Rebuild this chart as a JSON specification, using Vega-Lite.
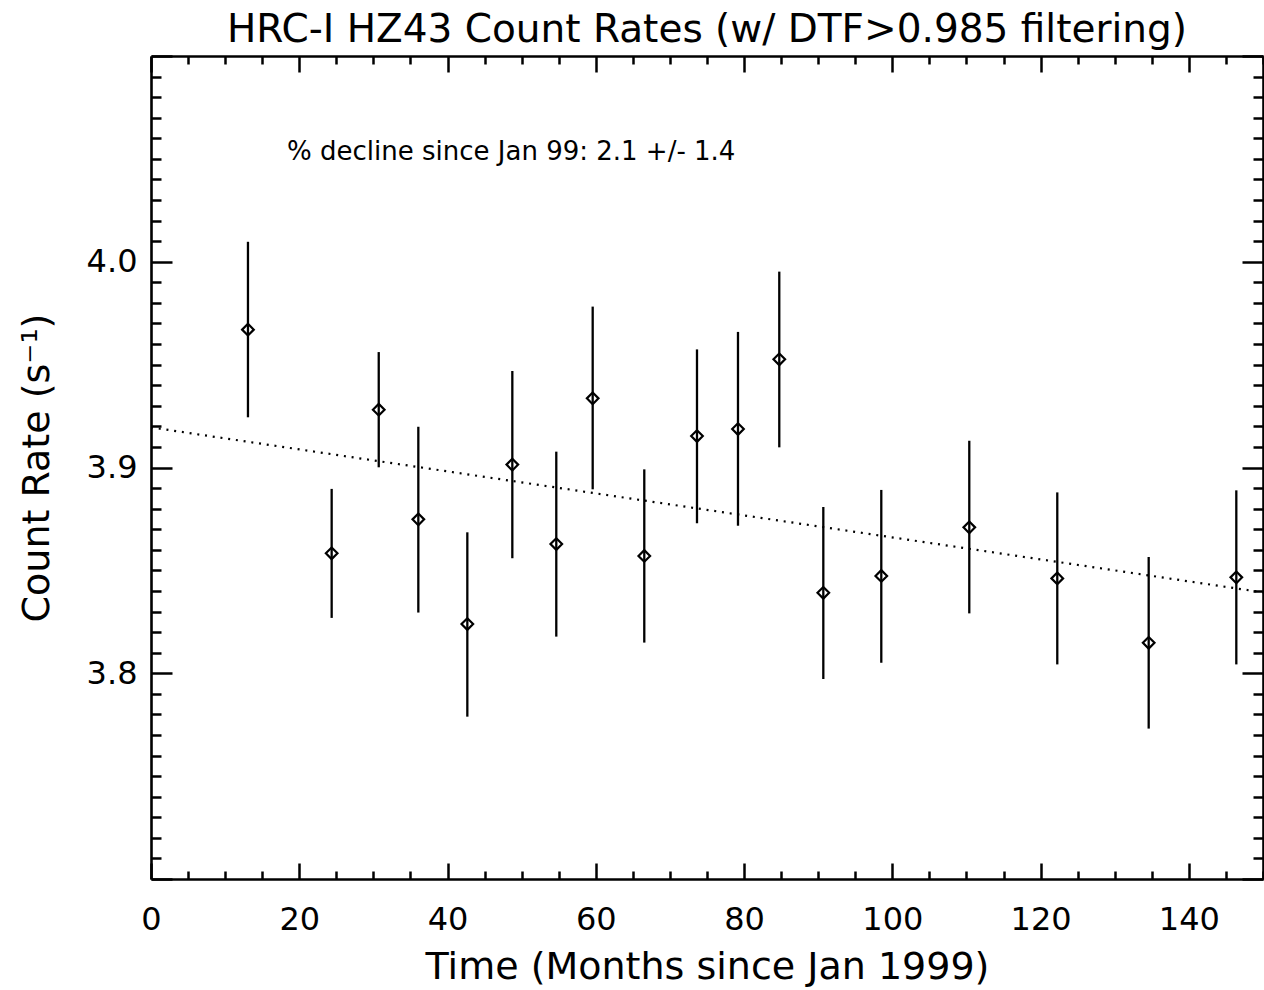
{
  "$schema": "https://vega.github.io/schema/vega-lite/v6.json",
  "width": 1112,
  "height": 823,
  "autosize": {"type": "none"},
  "padding": {"left": 151, "top": 56, "right": 1, "bottom": 111},
  "background": "white",
  "title": {"text": "HRC-I HZ43 Count Rates (w/ DTF>0.985 filtering)", "font": "DejaVu Sans", "fontSize": 39, "fontWeight": "normal", "color": "black", "anchor": "middle", "offset": -10},
  "config": {
    "view": {"stroke": null},
    "axis": {"domainColor": "black", "domainWidth": 2.6, "tickColor": "black", "tickWidth": 2.5, "labelColor": "black", "labelFont": "DejaVu Sans", "labelFontSize": 32, "titleColor": "black", "titleFont": "DejaVu Sans", "titleFontSize": 38, "titleFontWeight": "normal", "grid": false, "labelFlush": false, "labelOverlap": false}
  },
  "datasets": {
    "obs": [
      {"t": 13.08, "rate": 3.967, "lo": 3.9244, "hi": 4.0097},
      {"t": 24.37, "rate": 3.8583, "lo": 3.8269, "hi": 3.8896},
      {"t": 30.72, "rate": 3.9281, "lo": 3.9001, "hi": 3.9561},
      {"t": 36.06, "rate": 3.8748, "lo": 3.8295, "hi": 3.9198},
      {"t": 42.67, "rate": 3.8239, "lo": 3.7789, "hi": 3.8685},
      {"t": 48.74, "rate": 3.9014, "lo": 3.8559, "hi": 3.9469},
      {"t": 54.67, "rate": 3.8628, "lo": 3.8178, "hi": 3.9077},
      {"t": 59.58, "rate": 3.9336, "lo": 3.8894, "hi": 3.9782},
      {"t": 66.54, "rate": 3.857, "lo": 3.8149, "hi": 3.8991},
      {"t": 73.65, "rate": 3.9153, "lo": 3.8729, "hi": 3.9574},
      {"t": 79.18, "rate": 3.9187, "lo": 3.8717, "hi": 3.9659},
      {"t": 84.75, "rate": 3.9526, "lo": 3.9098, "hi": 3.9952},
      {"t": 90.69, "rate": 3.8391, "lo": 3.7972, "hi": 3.8808},
      {"t": 98.51, "rate": 3.8473, "lo": 3.8051, "hi": 3.8891},
      {"t": 110.38, "rate": 3.8709, "lo": 3.8291, "hi": 3.913},
      {"t": 122.25, "rate": 3.8461, "lo": 3.8043, "hi": 3.8879},
      {"t": 134.58, "rate": 3.8148, "lo": 3.7731, "hi": 3.8565},
      {"t": 146.4, "rate": 3.8466, "lo": 3.8043, "hi": 3.8889}
    ],
    "fit": [
      {"t": 0, "fit": 3.9195},
      {"t": 150, "fit": 3.8393}
    ],
    "note": [
      {"t": 18.35, "y": 4.0533, "label": "% decline since Jan 99: 2.1 +/- 1.4"}
    ]
  },
  "resolve": {"axis": {"x": "independent", "y": "independent"}},
  "layer": [
    {
      "data": {"name": "obs"},
      "mark": {"type": "rule", "color": "black", "strokeWidth": 2.3},
      "encoding": {
        "x": {"field": "t", "type": "quantitative", "scale": {"domain": [0, 150], "nice": false, "zero": false},
          "axis": {"orient": "bottom", "title": "Time (Months since Jan 1999)", "titlePadding": 5,
            "values": [0,5,10,15,20,25,30,35,40,45,50,55,60,65,70,75,80,85,90,95,100,105,110,115,120,125,130,135,140,145,150],
            "tickSize": {"condition": {"test": "datum.value % 20 === 0", "value": -16}, "value": -8},
            "labelExpr": "datum.value % 20 === 0 && datum.value < 150 ? datum.label : ''",
            "labelPadding": 41}},
        "y": {"field": "lo", "type": "quantitative", "scale": {"domain": [3.7, 4.1], "nice": false, "zero": false},
          "axis": {"orient": "left", "title": "Count Rate (s⁻¹)", "titlePadding": 30,
            "values": [3.7,3.71,3.72,3.73,3.74,3.75,3.76,3.77,3.78,3.79,3.8,3.81,3.82,3.83,3.84,3.85,3.86,3.87,3.88,3.89,3.9,3.91,3.92,3.93,3.94,3.95,3.96,3.97,3.98,3.99,4.0,4.01,4.02,4.03,4.04,4.05,4.06,4.07,4.08,4.09,4.1],
            "tickSize": {"condition": {"test": "abs(datum.value*10 - round(datum.value*10)) < 0.001", "value": -21}, "value": -10},
            "labelExpr": "abs(datum.value*10 - round(datum.value*10)) < 0.001 && datum.value > 3.75 && datum.value < 4.05 ? format(datum.value, '.1f') : ''",
            "labelPadding": 35}},
        "y2": {"field": "hi"}
      }
    },
    {
      "data": {"name": "obs"},
      "mark": {"type": "point", "shape": "diamond", "filled": false, "stroke": "black", "strokeWidth": 2.2, "size": 135, "opacity": 1},
      "encoding": {
        "x": {"field": "t", "type": "quantitative", "scale": {"domain": [0, 150], "nice": false, "zero": false},
          "axis": {"orient": "top", "title": null, "labels": false,
            "values": [0,5,10,15,20,25,30,35,40,45,50,55,60,65,70,75,80,85,90,95,100,105,110,115,120,125,130,135,140,145,150],
            "tickSize": {"condition": {"test": "datum.value % 20 === 0", "value": -16}, "value": -8}}},
        "y": {"field": "rate", "type": "quantitative", "scale": {"domain": [3.7, 4.1], "nice": false, "zero": false},
          "axis": {"orient": "right", "title": null, "labels": false,
            "values": [3.7,3.71,3.72,3.73,3.74,3.75,3.76,3.77,3.78,3.79,3.8,3.81,3.82,3.83,3.84,3.85,3.86,3.87,3.88,3.89,3.9,3.91,3.92,3.93,3.94,3.95,3.96,3.97,3.98,3.99,4.0,4.01,4.02,4.03,4.04,4.05,4.06,4.07,4.08,4.09,4.1],
            "tickSize": {"condition": {"test": "abs(datum.value*10 - round(datum.value*10)) < 0.001", "value": -21}, "value": -10}}}
      }
    },
    {
      "data": {"name": "fit"},
      "mark": {"type": "line", "color": "black", "strokeWidth": 2.2, "strokeDash": [2, 5.8], "strokeCap": "butt"},
      "encoding": {
        "x": {"field": "t", "type": "quantitative", "axis": null},
        "y": {"field": "fit", "type": "quantitative", "axis": null}
      }
    },
    {
      "data": {"name": "note"},
      "mark": {"type": "text", "align": "left", "baseline": "middle", "font": "DejaVu Sans", "fontSize": 26, "color": "black"},
      "encoding": {
        "x": {"field": "t", "type": "quantitative", "axis": null},
        "y": {"field": "y", "type": "quantitative", "axis": null},
        "text": {"field": "label"}
      }
    }
  ]
}
